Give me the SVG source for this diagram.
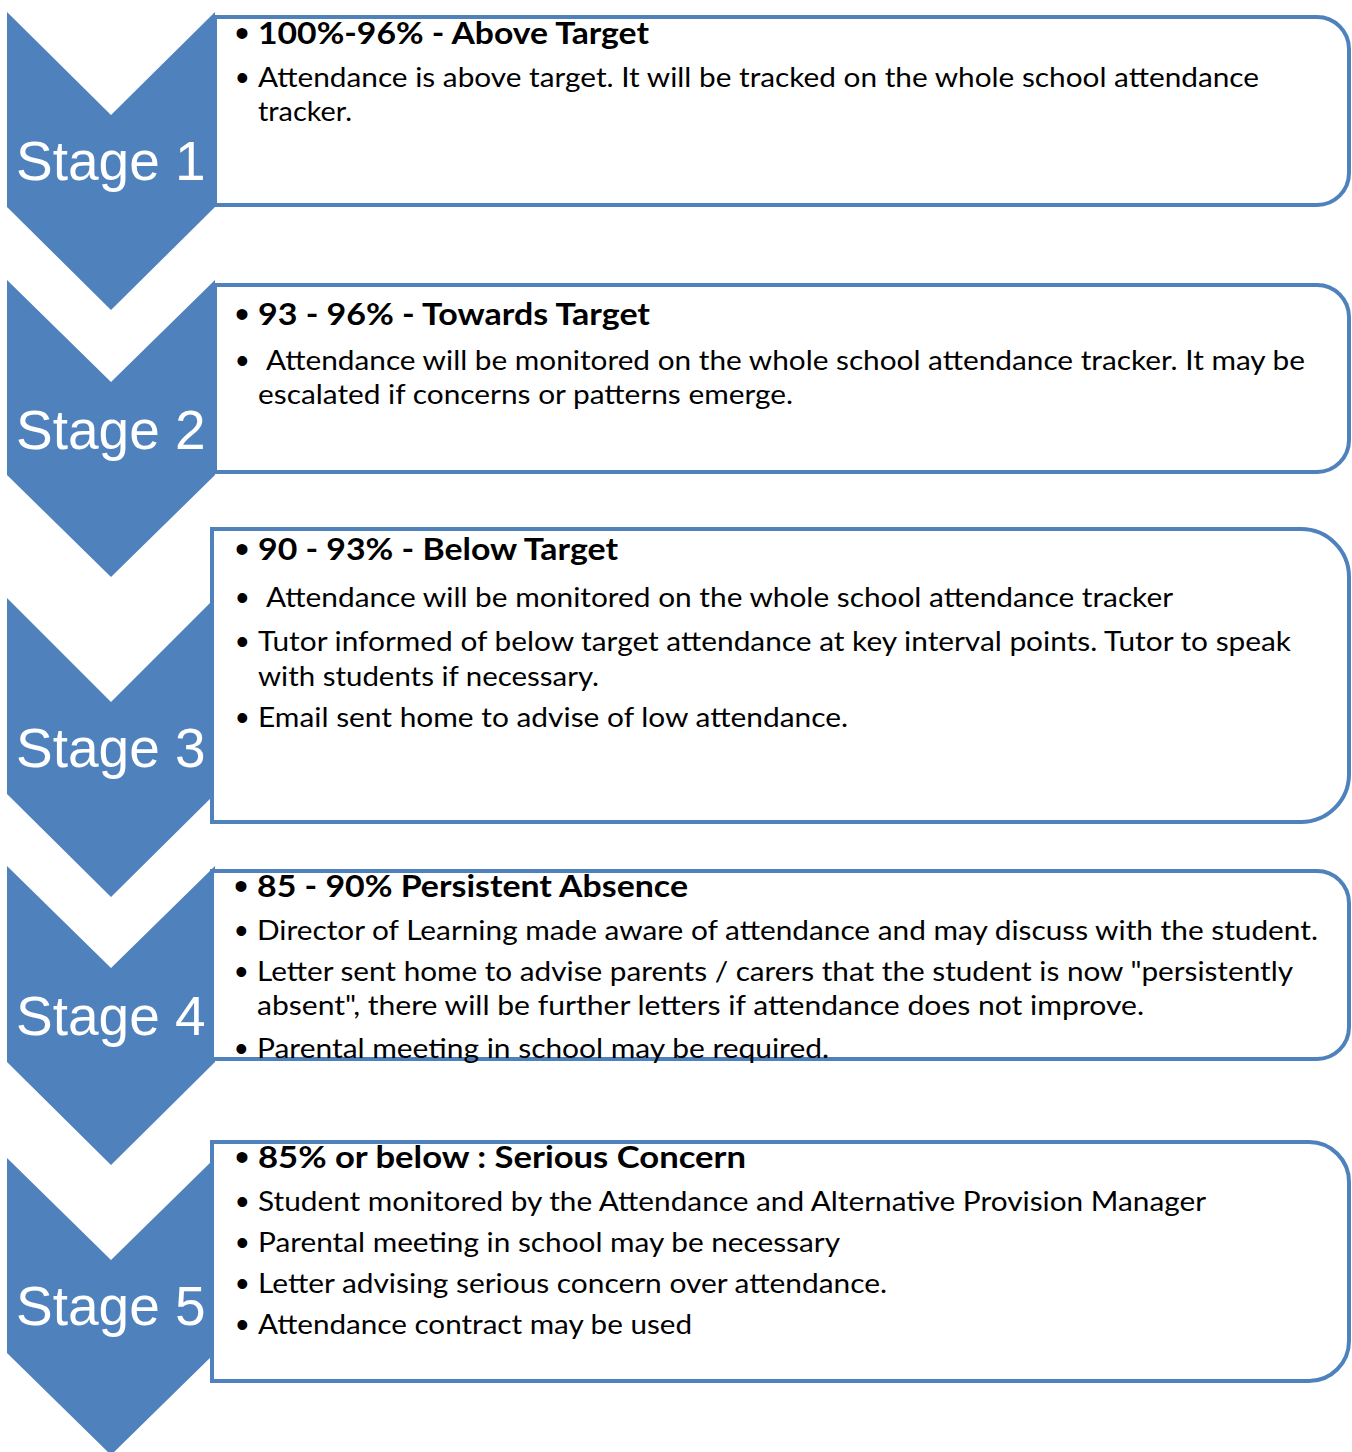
<svg xmlns="http://www.w3.org/2000/svg" width="1352" height="1452" viewBox="0 0 1352 1452">
<style>
.chev{fill:#4F81BD;}
.box{fill:#FFFFFF;stroke:#4F81BD;stroke-width:4;}
.stage{font-family:"Liberation Sans",Arial,sans-serif;font-size:55px;fill:#FFFFFF;}
.t{font-family:Lato,"Open Sans",sans-serif;font-weight:bold;font-size:30px;fill:#000000;}
.b{font-family:Lato,"Open Sans",sans-serif;font-size:27px;fill:#000000;}
.bt{font-family:"Liberation Sans",Arial,sans-serif;font-size:40px;fill:#000000;}
.bul{font-family:"Liberation Sans",Arial,sans-serif;font-size:36px;fill:#000000;}
</style>
<rect width="1352" height="1452" fill="#FFFFFF"/>
<g id="stage1">
<polygon class="chev" points="7,12 111,115 215,12 215,207 111,310 7,207"/>
<text class="stage" x="16" y="180">Stage 1</text>
<path class="box" d="M215,17 H1317 A32,32 0 0 1 1349,49 V173 A32,32 0 0 1 1317,205 H215 Z"/>
<text class="bt" x="235" y="47">•</text>
<text class="t" x="258" y="44" textLength="391" lengthAdjust="spacingAndGlyphs">100%-96% - Above Target</text>
<text class="bul" x="236" y="90">•</text>
<text class="b" x="258" y="87" textLength="1001" lengthAdjust="spacingAndGlyphs">Attendance is above target. It will be tracked on the whole school attendance</text>
<text class="b" x="258" y="121" textLength="94" lengthAdjust="spacingAndGlyphs">tracker.</text>
</g>
<g id="stage2">
<polygon class="chev" points="7,280 111,382 215,280 215,475 111,577 7,475"/>
<text class="stage" x="16" y="449">Stage 2</text>
<path class="box" d="M215,285 H1317 A32,32 0 0 1 1349,317 V440 A32,32 0 0 1 1317,472 H215 Z"/>
<text class="bt" x="235" y="328">•</text>
<text class="t" x="258" y="325" textLength="392" lengthAdjust="spacingAndGlyphs">93 - 96% - Towards Target</text>
<text class="bul" x="236" y="373">•</text>
<text class="b" x="266" y="370" textLength="1039" lengthAdjust="spacingAndGlyphs">Attendance will be monitored on the whole school attendance tracker. It may be</text>
<text class="b" x="258" y="404" textLength="535" lengthAdjust="spacingAndGlyphs">escalated if concerns or patterns emerge.</text>
</g>
<g id="stage3">
<polygon class="chev" points="7,598 111,702 215,598 215,794 111,897 7,794"/>
<text class="stage" x="16" y="767">Stage 3</text>
<path class="box" d="M212,529 H1301 A48,48 0 0 1 1349,577 V774 A48,48 0 0 1 1301,822 H212 Z"/>
<text class="bt" x="235" y="563">•</text>
<text class="t" x="258" y="560" textLength="360" lengthAdjust="spacingAndGlyphs">90 - 93% - Below Target</text>
<text class="bul" x="236" y="610">•</text>
<text class="b" x="266" y="607" textLength="907" lengthAdjust="spacingAndGlyphs">Attendance will be monitored on the whole school attendance tracker</text>
<text class="bul" x="236" y="654">•</text>
<text class="b" x="258" y="651" textLength="1033" lengthAdjust="spacingAndGlyphs">Tutor informed of below target attendance at key interval points. Tutor to speak</text>
<text class="b" x="258" y="686" textLength="341" lengthAdjust="spacingAndGlyphs">with students if necessary.</text>
<text class="bul" x="236" y="730">•</text>
<text class="b" x="258" y="727" textLength="590" lengthAdjust="spacingAndGlyphs">Email sent home to advise of low attendance.</text>
</g>
<g id="stage4">
<polygon class="chev" points="7,866 111,968 215,866 215,1062 111,1165 7,1062"/>
<text class="stage" x="16" y="1035">Stage 4</text>
<path class="box" d="M212,871 H1317 A32,32 0 0 1 1349,903 V1027 A32,32 0 0 1 1317,1059 H212 Z"/>
<text class="bt" x="234" y="900">•</text>
<text class="t" x="257" y="897" textLength="431" lengthAdjust="spacingAndGlyphs">85 - 90% Persistent Absence</text>
<text class="bul" x="235" y="943">•</text>
<text class="b" x="257" y="940" textLength="1061" lengthAdjust="spacingAndGlyphs">Director of Learning made aware of attendance and may discuss with the student.</text>
<text class="bul" x="235" y="984">•</text>
<text class="b" x="257" y="981" textLength="1036" lengthAdjust="spacingAndGlyphs">Letter sent home to advise parents / carers that the student is now "persistently</text>
<text class="b" x="257" y="1015" textLength="887" lengthAdjust="spacingAndGlyphs">absent", there will be further letters if attendance does not improve.</text>
<text class="bul" x="235" y="1061">•</text>
<text class="b" x="257" y="1058" textLength="572" lengthAdjust="spacingAndGlyphs">Parental meeting in school may be required.</text>
</g>
<g id="stage5">
<polygon class="chev" points="7,1158 111,1260 215,1158 215,1353 111,1455 7,1353"/>
<text class="stage" x="16" y="1325">Stage 5</text>
<path class="box" d="M212,1142 H1309 A40,40 0 0 1 1349,1182 V1341 A40,40 0 0 1 1309,1381 H212 Z"/>
<text class="bt" x="235" y="1171">•</text>
<text class="t" x="258" y="1168" textLength="488" lengthAdjust="spacingAndGlyphs">85% or below : Serious Concern</text>
<text class="bul" x="236" y="1214">•</text>
<text class="b" x="258" y="1211" textLength="948" lengthAdjust="spacingAndGlyphs">Student monitored by the Attendance and Alternative Provision Manager</text>
<text class="bul" x="236" y="1255">•</text>
<text class="b" x="258" y="1252" textLength="582" lengthAdjust="spacingAndGlyphs">Parental meeting in school may be necessary</text>
<text class="bul" x="236" y="1296">•</text>
<text class="b" x="258" y="1293" textLength="629" lengthAdjust="spacingAndGlyphs">Letter advising serious concern over attendance.</text>
<text class="bul" x="236" y="1337">•</text>
<text class="b" x="258" y="1334" textLength="434" lengthAdjust="spacingAndGlyphs">Attendance contract may be used</text>
</g>
<g id="connectors"></g>
</svg>
